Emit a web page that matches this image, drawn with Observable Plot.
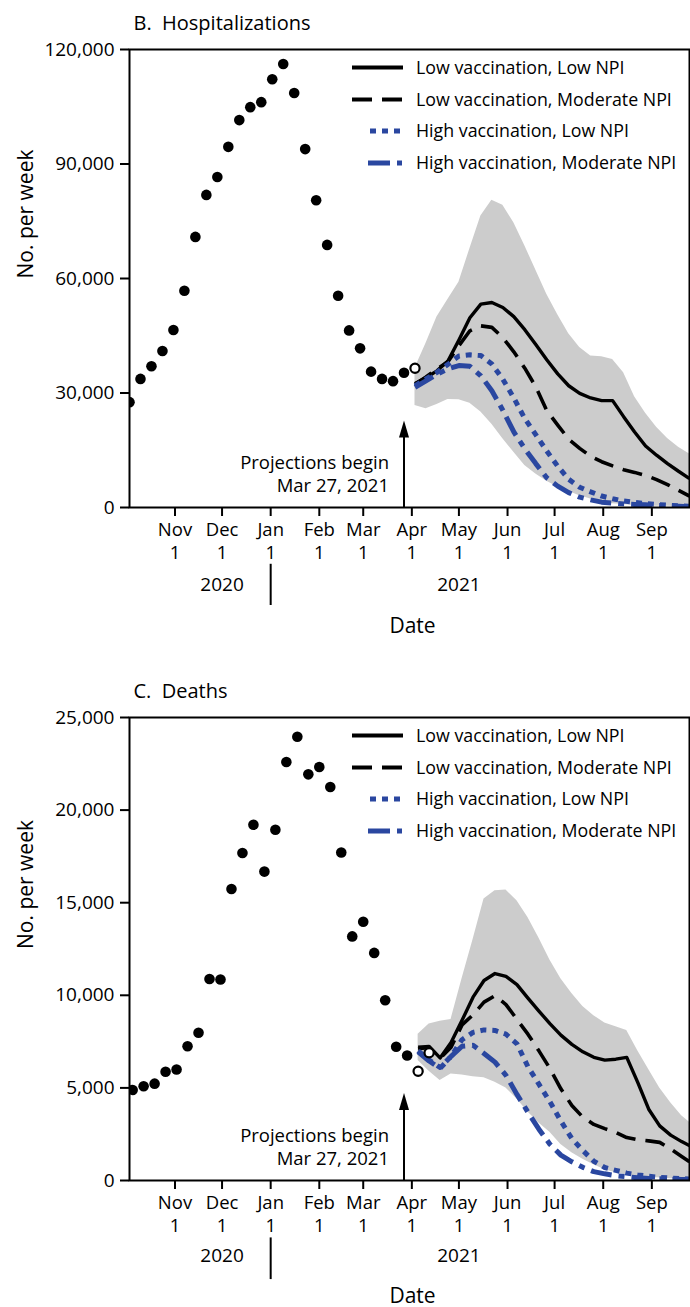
<!DOCTYPE html>
<html><head><meta charset="utf-8">
<script src="https://cdn.jsdelivr.net/npm/d3@7"></script>
<script src="https://cdn.jsdelivr.net/npm/@observablehq/plot@0.6"></script>
<style>
html,body{margin:0;padding:0;background:#fff;overflow:hidden;}
.chart{position:relative;width:690px;}
.chart svg.legend{position:absolute;left:0;top:0;pointer-events:none;}
</style></head><body>
<div id="root"></div>
<script>
const FONT = "'Open Sans', sans-serif";

// ---- shared categories / labels ----
const scenarios = ["Low vaccination, Low NPI", "Low vaccination, Moderate NPI", "High vaccination, Low NPI", "High vaccination, Moderate NPI"];
const scenarioColors = ["#000000", "#000000", "#2a47a0", "#2a47a0"];
const monthTicks = ["2020-11-01","2020-12-01","2021-01-01","2021-02-01","2021-03-01","2021-04-01","2021-05-01","2021-06-01","2021-07-01","2021-08-01","2021-09-01"];
const monthLabels = ["Nov","Dec","Jan","Feb","Mar","Apr","May","Jun","Jul","Aug","Sep"];
const dayLabels = ["1","1","1","1","1","1","1","1","1","1","1"];
const yearLabels = ["2020", "2021"];
const yearLabelDates = ["2020-12-01", "2021-05-01"];
const yearSeparatorDate = "2021-01-01";
const xDomain = ["2020-10-03", "2021-09-25"];
const projectionStart = "2021-03-27";
const projectionLabelLines = ["Projections begin", "Mar 27, 2021"];

// ---- B. Hospitalizations ----
const hospTitle = "B.\u00A0\u00A0Hospitalizations";
const hospYTicks = [0, 30000, 60000, 90000, 120000];
const hospObsDates = ["2020-10-03","2020-10-10","2020-10-17","2020-10-24","2020-10-31","2020-11-07","2020-11-14","2020-11-21","2020-11-28","2020-12-05","2020-12-12","2020-12-19","2020-12-26","2021-01-02","2021-01-09","2021-01-16","2021-01-23","2021-01-30","2021-02-06","2021-02-13","2021-02-20","2021-02-27","2021-03-06","2021-03-13","2021-03-20","2021-03-27"];
const hospObsValues = [27600,33700,37000,41000,46500,56800,70900,81900,86600,94500,101500,104900,106200,112200,116200,108600,93900,80500,68800,55500,46400,41700,35600,33700,33100,35300];
const hospOpenDates = ["2021-04-03"];
const hospOpenValues = [36500];
const hospProjDates = ["2021-04-03","2021-04-10","2021-04-17","2021-04-24","2021-05-01","2021-05-08","2021-05-15","2021-05-22","2021-05-29","2021-06-05","2021-06-12","2021-06-19","2021-06-26","2021-07-03","2021-07-10","2021-07-17","2021-07-24","2021-07-31","2021-08-07","2021-08-14","2021-08-21","2021-08-28","2021-09-04","2021-09-11","2021-09-18","2021-09-25"];
const hospBandHigh = [36500,43000,49900,54500,59000,67800,76400,80500,79200,74600,68600,62200,55900,50500,45500,41900,39700,39500,38800,35300,29000,24700,21000,18100,15800,14000];
const hospBandLow = [26700,25900,27000,28300,28200,27300,25000,21800,18000,14500,11000,8800,6900,5400,4200,3100,2200,1400,1000,800,500,400,350,300,250,200];
const hospLowVaxLowNpi = [32500,34000,35800,38400,43900,49700,53300,53700,52400,50000,46600,42700,38700,35000,31900,29900,28700,28000,28000,23800,19800,16100,13700,11500,9500,7600];
const hospLowVaxModNpi = [32300,34200,36300,38200,42400,46300,47600,47200,44500,40800,36500,31600,25400,21600,17900,15500,13400,12000,10900,9900,9200,8400,7300,6000,4500,3000];
const hospHighVaxLowNpi = [31900,33700,35400,37500,39700,40000,39800,37600,33600,28700,23300,19100,14800,10800,7400,5300,4100,3000,2300,1700,1350,1000,800,600,450,300];
const hospHighVaxModNpi = [31500,33200,34900,36300,37200,37000,34500,30600,25500,19800,15400,11500,7800,5600,3900,2700,2000,1400,1150,950,800,700,550,450,300,200];
const hospArrowTip = 22800;

// ---- C. Deaths ----
const deathTitle = "C.\u00A0\u00A0Deaths";
const deathYTicks = [0, 5000, 10000, 15000, 20000, 25000];
const deathObsDates = ["2020-10-05","2020-10-12","2020-10-19","2020-10-26","2020-11-02","2020-11-09","2020-11-16","2020-11-23","2020-11-30","2020-12-07","2020-12-14","2020-12-21","2020-12-28","2021-01-04","2021-01-11","2021-01-18","2021-01-25","2021-02-01","2021-02-08","2021-02-15","2021-02-22","2021-03-01","2021-03-08","2021-03-15","2021-03-22","2021-03-29"];
const deathObsValues = [4890,5090,5230,5870,5990,7250,7980,10880,10850,15740,17680,19210,16680,18940,22600,23960,21930,22330,21250,17710,13180,13970,12290,9730,7220,6750];
const deathOpenDates = ["2021-04-05","2021-04-12"];
const deathOpenValues = [5900, 6900];
const deathProjDates = ["2021-04-05","2021-04-12","2021-04-19","2021-04-26","2021-05-03","2021-05-10","2021-05-17","2021-05-24","2021-05-31","2021-06-07","2021-06-14","2021-06-21","2021-06-28","2021-07-05","2021-07-12","2021-07-19","2021-07-26","2021-08-02","2021-08-09","2021-08-16","2021-08-23","2021-08-30","2021-09-06","2021-09-13","2021-09-20","2021-09-27"];
const deathBandHigh = [7900,8450,8600,8700,10900,13000,15200,15650,15690,15100,14200,13100,11900,10900,10100,9400,8900,8500,8300,8100,7000,6000,5000,4200,3500,3000];
const deathBandLow = [6480,5900,5400,5750,5700,5600,5550,5300,5000,4400,3700,3100,2600,1950,1500,1150,850,580,420,300,220,170,130,100,80,70];
const deathLowVaxLowNpi = [7200,7240,6620,7450,8650,9900,10800,11175,11020,10580,9850,9150,8470,7850,7350,6950,6650,6500,6550,6650,5300,3850,2950,2450,2100,1800];
const deathLowVaxModNpi = [7100,7200,6600,7200,8400,8950,9630,9980,9500,8700,7900,7000,6050,4950,4050,3420,3030,2800,2600,2320,2200,2140,2060,1700,1300,900];
const deathHighVaxLowNpi = [7000,6500,6100,6700,7600,8000,8130,8100,7900,7380,6150,5200,4250,3210,2260,1620,1040,700,550,400,300,230,170,130,100,70];
const deathHighVaxModNpi = [6950,6450,6050,6700,7250,7300,6860,6390,5680,4650,3690,2770,1960,1370,1010,710,480,360,260,200,150,110,90,70,60,50];
const deathArrowTip = 4730;

// ---- styles (not data) ----
const lineStyles = [
  {strokeWidth: 3.4, dash: null},
  {strokeWidth: 3.6, dash: "20,10"},
  {strokeWidth: 5, dash: "6,6"},
  {strokeWidth: 5, dash: "21,7,6,7"}
];
const legendSamples = [
  {x1: 352, x2: 403, dash: null, w: 4},
  {x1: 352, x2: 403, dash: "20,10", w: 4},
  {x1: 370, x2: 403, dash: "6,6", w: 5},
  {x1: 368, x2: 403, dash: "22,7,5,7", w: 5}
];
const legendRowY = [67.5, 99.5, 131, 163];

const D = s => new Date(s + "T00:00:00Z");

function makeChart(cfg) {
  const obs = cfg.obsDates.map((d, i) => ({date: D(d), value: cfg.obsValues[i]}));
  const open = cfg.openDates.map((d, i) => ({date: D(d), value: cfg.openValues[i]}));
  const band = cfg.projDates.map((d, i) => ({date: D(d), lo: cfg.bandLow[i], hi: cfg.bandHigh[i]}));
  const series = cfg.series.map(vals => cfg.projDates.map((d, i) => ({date: D(d), value: vals[i]})));
  const ps = D(projectionStart);
  const tickDates = monthTicks.map(D);
  const tickRows = tickDates.map((d, i) => ({date: d, m: monthLabels[i], day: dayLabels[i]}));
  const yMax = cfg.yTicks[cfg.yTicks.length - 1];
  const marginTop = 49, height = marginTop + cfg.frameH + 161;

  const arrowHead = Plot.spike
    ? Plot.vector([{date: ps, v: cfg.arrowTip}], {x: "date", y: "v", length: 17, shape: "spike", r: 5, anchor: "end", fill: "black", stroke: "none"})
    : Plot.dot([{date: ps, v: cfg.arrowTip}], {x: "date", y: "v", symbol: "triangle", r: 5, fill: "black"});

  const plot = Plot.plot({
    width: 690,
    height,
    marginLeft: 129,
    marginRight: 1,
    marginTop,
    marginBottom: height - marginTop - cfg.frameH,
    style: {fontFamily: FONT, fontSize: "19px", color: "black", background: "white", overflow: "visible"},
    x: {type: "utc", domain: xDomain.map(D)},
    y: {domain: [0, yMax]},
    marks: [
      Plot.areaY(band, {x: "date", y1: "lo", y2: "hi", fill: "#cccccc", clip: true}),
      ...series.map((s, k) => Plot.line(s, {x: "date", y: "value", stroke: scenarioColors[k], strokeWidth: lineStyles[k].strokeWidth, strokeDasharray: lineStyles[k].dash, strokeLinecap: "butt", strokeLinejoin: "round", clip: true})),
      Plot.dot(obs, {x: "date", y: "value", r: 5.3, fill: "black", stroke: "none", clip: true}),
      Plot.dot(open, {x: "date", y: "value", r: 4.6, fill: "white", stroke: "black", strokeWidth: 2.2}),
      Plot.ruleX([{date: ps}], {x: "date", y1: 0, y2: cfg.arrowTip * 0.85, strokeWidth: 2}),
      arrowHead,
      Plot.text([{date: ps, label: projectionLabelLines[0]}], {x: "date", text: "label", frameAnchor: "bottom", textAnchor: "end", lineAnchor: "middle", dx: -15, dy: -44.5, fontSize: 18.5}),
      Plot.text([{date: ps, label: projectionLabelLines[1]}], {x: "date", text: "label", frameAnchor: "bottom", textAnchor: "end", lineAnchor: "middle", dx: -15, dy: -21.5, fontSize: 18.5}),
      Plot.frame({strokeWidth: 2}),
      Plot.axisY({ticks: cfg.yTicks, tickFormat: d3.format(","), tickSize: 9, tickPadding: 6, strokeWidth: 2, fontSize: 19, label: null}),
      Plot.axisX({ticks: tickDates, tickFormat: () => "", tickSize: 9, strokeWidth: 2, label: null}),
      Plot.text(tickRows, {x: "date", text: "m", frameAnchor: "bottom", dy: 23, lineAnchor: "middle", fontSize: 18.5}),
      Plot.text(tickRows, {x: "date", text: "day", frameAnchor: "bottom", dy: 46, lineAnchor: "middle", fontSize: 18.5}),
      Plot.text(yearLabels.map((t, i) => ({date: D(yearLabelDates[i]), t})), {x: "date", text: "t", frameAnchor: "bottom", dy: cfg.yearDy, lineAnchor: "middle", fontSize: 19}),
      Plot.ruleX([{date: D(yearSeparatorDate)}], {x: "date", y1: -0.124 * yMax, y2: -0.214 * yMax, strokeWidth: 2}),
      Plot.text(["Date"], {frameAnchor: "bottom", dy: cfg.dateDy, dx: 3, lineAnchor: "middle", fontSize: 21}),
      Plot.text(["No. per week"], {frameAnchor: "left", dx: -103, rotate: -90, lineAnchor: "middle", fontSize: 21}),
      Plot.text([cfg.title], {frameAnchor: "top-left", dx: 4, dy: -26, textAnchor: "start", lineAnchor: "middle", fontSize: 20})
    ]
  });

  const div = document.createElement("div");
  div.className = "chart";
  div.appendChild(plot);

  const leg = d3.create("svg").attr("class", "legend").attr("width", 690).attr("height", 200)
    .style("font-family", FONT).style("font-size", "17.8px");
  scenarios.forEach((s, k) => {
    const y = legendRowY[k], smp = legendSamples[k];
    leg.append("line").attr("x1", smp.x1).attr("x2", smp.x2).attr("y1", y).attr("y2", y)
      .attr("stroke", scenarioColors[k]).attr("stroke-width", smp.w)
      .attr("stroke-dasharray", smp.dash).attr("stroke-linecap", "butt");
    leg.append("text").attr("x", 416).attr("y", y).attr("dy", "0.35em").attr("fill", "black").text(s);
  });
  div.appendChild(leg.node());
  return div;
}

const root = document.getElementById("root");
root.appendChild(makeChart({
  title: hospTitle, yTicks: hospYTicks, frameH: 458, yearDy: 77, dateDy: 119,
  obsDates: hospObsDates, obsValues: hospObsValues,
  openDates: hospOpenDates, openValues: hospOpenValues,
  projDates: hospProjDates, bandLow: hospBandLow, bandHigh: hospBandHigh,
  series: [hospLowVaxLowNpi, hospLowVaxModNpi, hospHighVaxLowNpi, hospHighVaxModNpi],
  arrowTip: hospArrowTip
}));
root.appendChild(makeChart({
  title: deathTitle, yTicks: deathYTicks, frameH: 463, yearDy: 75, dateDy: 116,
  obsDates: deathObsDates, obsValues: deathObsValues,
  openDates: deathOpenDates, openValues: deathOpenValues,
  projDates: deathProjDates, bandLow: deathBandLow, bandHigh: deathBandHigh,
  series: [deathLowVaxLowNpi, deathLowVaxModNpi, deathHighVaxLowNpi, deathHighVaxModNpi],
  arrowTip: deathArrowTip
}));
</script>
</body></html>
